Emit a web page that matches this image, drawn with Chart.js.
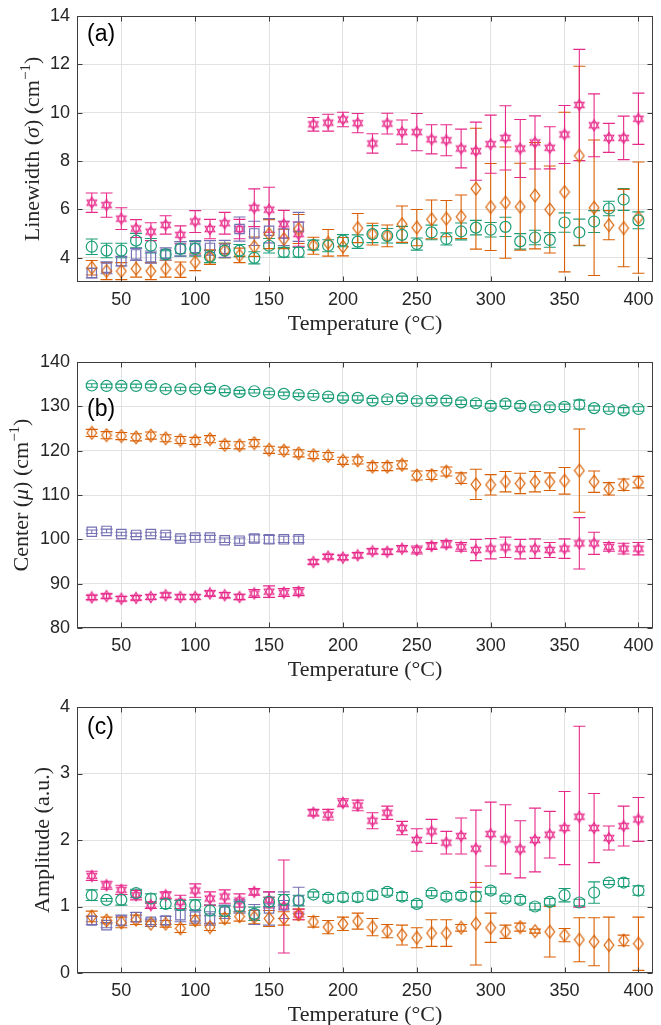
<!DOCTYPE html>
<html>
<head>
  <title>Linewidth, center and amplitude vs temperature</title>
  <meta charset="utf-8" />
  <script src="https://cdn.jsdelivr.net/npm/chart.js@4.4.0/dist/chart.umd.min.js"></script>
  <style>
    html, body {
      margin: 0;
      padding: 0;
      background: #ffffff;
    }
    #wrap {
      position: relative;
      width: 661px;
      height: 1025px;
      overflow: hidden;
    }
    #wrap canvas {
      position: absolute;
      left: 0;
    }
  </style>
</head>
<body>
  <div id="wrap">
    <canvas id="chartA" width="661" height="342" style="top:0px"></canvas>
    <canvas id="chartB" width="661" height="342" style="top:346px"></canvas>
    <canvas id="chartC" width="661" height="342" style="top:691px"></canvas>
  </div>
  <script>
    // temperatures (°C)
    var temps = [30, 40, 50, 60, 70, 80, 90, 100, 110, 120, 130, 140, 150, 160, 170, 180, 190,
                 200, 210, 220, 230, 240, 250, 260, 270, 280, 290, 300, 310, 320, 330, 340, 350,
                 360, 370, 380, 390, 400];
    var tempsLow = [30, 40, 50, 60, 70, 80, 90, 100, 110, 120, 130, 140, 150, 160, 170];

    var xTicks = [50, 100, 150, 200, 250, 300, 350, 400];
    var yTicksA = [4, 6, 8, 10, 12, 14];
    var yTicksB = [80, 90, 100, 110, 120, 130, 140];
    var yTicksC = [0, 1, 2, 3, 4];

    // (a) linewidth
    var aGreen = [4.46, 4.30, 4.30, 4.71, 4.50, 4.14, 4.37, 4.37, 4.05, 4.30, 4.30, 4.00, 4.50, 4.23, 4.23, 4.53, 4.50,
                  4.71, 4.67, 4.98, 4.91, 4.95, 4.57, 5.05, 4.78, 5.09, 5.25, 5.16, 5.28, 4.68, 4.84, 4.74, 5.46, 5.05, 5.50, 6.04, 6.41, 5.55];
    var aGreenErr = [0.32, 0.3, 0.3, 0.3, 0.3, 0.15, 0.3, 0.3, 0.25, 0.3, 0.25, 0.25, 0.3, 0.2, 0.2, 0.2, 0.25,
                     0.25, 0.28, 0.35, 0.3, 0.35, 0.25, 0.3, 0.25, 0.35, 0.3, 0.3, 0.4, 0.32, 0.3, 0.3, 0.4, 0.55, 0.45, 0.3, 0.45, 0.35];
    var aOrange = [3.59, 3.45, 3.45, 3.55, 3.45, 3.55, 3.51, 3.82, 4.03, 4.30, 4.10, 4.46, 4.98, 4.78, 5.19, 4.50, 4.62,
                   4.46, 5.23, 4.98, 4.91, 5.39, 5.25, 5.59, 5.62, 5.70, 6.86, 6.10, 6.28, 6.11, 6.57, 6.00, 6.72, 8.22, 6.07, 5.35, 5.23, 5.66];
    var aOrangeErr = [0.3, 0.35, 0.35, 0.35, 0.35, 0.35, 0.32, 0.35, 0.3, 0.3, 0.3, 0.4, 0.6, 0.4, 0.6, 0.35, 0.55,
                      0.38, 0.6, 0.45, 0.45, 0.75, 0.75, 0.8, 0.75, 0.9, 2.5, 1.8, 2.3, 1.8, 2.2, 1.8, 3.3, 3.7, 2.8, 0.6, 1.6, 2.3];
    var aPurple = [3.37, 3.59, 3.86, 4.14, 4.03, 4.16, 4.37, 4.41, 4.41, 4.37, 5.19, 5.01, 5.12, 5.01, 5.28];
    var aPurpleErr = [0.2, 0.25, 0.2, 0.25, 0.25, 0.25, 0.3, 0.3, 0.3, 0.35, 0.5, 0.5, 0.5, 0.5, 0.6];
    var aPink = [6.28, 6.18, 5.62, 5.21, 5.08, 5.36, 4.95, 5.50, 5.19, 5.43, 5.19, 6.07, 5.99, 5.39, 4.98, 9.52, 9.59,
                 9.72, 9.57, 8.73, 9.55, 9.20, 9.20, 8.90, 8.86, 8.52, 8.41, 8.70, 8.96, 8.52, 8.77, 8.55, 9.10, 10.32, 9.48, 8.96, 8.96, 9.75];
    var aPinkErr = [0.4, 0.5, 0.45, 0.37, 0.37, 0.38, 0.37, 0.45, 0.4, 0.45, 0.4, 0.78, 0.93, 0.57, 0.5, 0.28, 0.35,
                    0.3, 0.4, 0.4, 0.43, 0.5, 0.77, 0.6, 0.64, 0.8, 1.2, 1.2, 1.33, 1.2, 1.1, 0.87, 1.2, 2.3, 1.3, 0.6, 0.9, 1.06];

    // (b) center
    var bGreen = [134.7, 134.6, 134.6, 134.6, 134.6, 133.9, 133.9, 133.9, 134.0, 133.5, 133.2, 133.4, 133.0, 132.8, 132.6, 132.5, 132.2,
                  131.9, 131.9, 131.3, 131.6, 131.8, 131.2, 131.3, 131.3, 130.9, 130.7, 130.1, 130.6, 130.1, 129.8, 129.8, 129.9, 130.4, 129.6, 129.4, 129.1, 129.4];
    var bGreenErr = [0.4, 0.4, 0.4, 0.4, 0.4, 0.4, 0.4, 0.4, 0.4, 0.4, 0.4, 0.4, 0.4, 0.4, 0.4, 0.4, 0.4,
                     0.5, 0.5, 0.5, 0.5, 0.5, 0.5, 0.5, 0.5, 0.5, 0.6, 0.5, 0.6, 0.5, 0.5, 0.5, 0.6, 1.0, 0.5, 0.5, 0.6, 0.5];
    var bOrange = [124.0, 123.5, 123.3, 123.0, 123.4, 122.8, 122.4, 122.2, 122.6, 121.3, 121.2, 121.7, 120.2, 120.0, 119.4, 119.0, 118.8,
                   117.7, 117.8, 116.4, 116.4, 116.8, 114.4, 114.5, 115.3, 113.8, 112.4, 112.3, 113.0, 112.6, 113.0, 113.0, 113.2, 115.5, 113.0, 111.4, 112.3, 112.9];
    var bOrangeErr = [0.8, 0.8, 0.8, 0.8, 0.8, 0.8, 0.8, 0.8, 0.8, 0.8, 0.8, 0.8, 0.8, 0.8, 0.8, 0.8, 0.8,
                      0.8, 0.8, 0.9, 0.9, 0.9, 1.0, 1.0, 1.0, 1.2, 3.4, 2.3, 2.3, 2.3, 2.3, 2.0, 3.0, 9.4, 2.4, 1.4, 1.3, 1.3];
    var bPurple = [101.7, 101.9, 101.2, 101.0, 101.2, 101.0, 100.2, 100.4, 100.4, 99.8, 99.7, 100.2, 100.0, 100.0, 100.0];
    var bPurpleErr = [0.4, 0.4, 0.4, 0.4, 0.4, 0.5, 0.5, 0.5, 0.5, 0.5, 0.6, 0.8, 0.9, 0.7, 0.7];
    var bPink = [86.9, 87.2, 86.6, 86.8, 87.0, 87.4, 87.0, 87.0, 87.8, 87.4, 87.0, 87.8, 88.2, 88.0, 88.2, 94.9, 96.1,
                 95.9, 96.4, 97.3, 97.2, 97.9, 97.6, 98.5, 98.9, 98.3, 97.6, 97.9, 98.2, 97.8, 97.9, 97.6, 97.9, 99.1, 99.1, 98.3, 97.9, 97.9];
    var bPinkErr = [0.5, 0.5, 0.5, 0.5, 0.5, 0.5, 0.5, 0.5, 0.6, 0.6, 0.6, 0.9, 1.3, 0.9, 0.9, 0.5, 0.5,
                    0.5, 0.6, 0.6, 0.6, 0.7, 0.9, 0.8, 0.8, 1.0, 2.4, 2.3, 2.3, 2.2, 2.2, 1.7, 2.2, 5.8, 2.5, 1.0, 1.2, 1.4];

    // (c) amplitude
    var cGreen = [1.17, 1.10, 1.10, 1.20, 1.12, 1.04, 1.02, 1.02, 0.94, 0.93, 1.00, 0.89, 1.07, 1.10, 1.09, 1.18, 1.13,
                  1.14, 1.14, 1.17, 1.22, 1.15, 1.04, 1.20, 1.15, 1.16, 1.15, 1.24, 1.12, 1.10, 1.00, 1.07, 1.17, 1.06, 1.21, 1.36, 1.36, 1.24];
    var cGreenErr = [0.08, 0.02, 0.08, 0.06, 0.07, 0.07, 0.07, 0.08, 0.08, 0.08, 0.08, 0.1, 0.07, 0.08, 0.08, 0.04, 0.05,
                     0.06, 0.06, 0.06, 0.05, 0.06, 0.05, 0.04, 0.05, 0.05, 0.07, 0.05, 0.04, 0.05, 0.05, 0.05, 0.1, 0.05, 0.16, 0.03, 0.06, 0.07];
    var cOrange = [0.85, 0.79, 0.76, 0.80, 0.74, 0.74, 0.67, 0.79, 0.69, 0.82, 0.85, 0.84, 0.82, 0.82, 0.88, 0.77, 0.69,
                   0.74, 0.78, 0.69, 0.63, 0.57, 0.53, 0.60, 0.60, 0.68, 0.74, 0.68, 0.62, 0.69, 0.63, 0.62, 0.57, 0.50, 0.47, 0.42, 0.49, 0.44];
    var cOrangeErr = [0.08, 0.05, 0.08, 0.07, 0.04, 0.05, 0.06, 0.07, 0.05, 0.07, 0.07, 0.1, 0.12, 0.1, 0.08, 0.08, 0.1,
                      0.1, 0.12, 0.13, 0.1, 0.15, 0.15, 0.2, 0.2, 0.05, 0.62, 0.22, 0.1, 0.06, 0.03, 0.38, 0.1, 0.33, 0.36, 0.42, 0.08, 0.4];
    var cPurple = [0.79, 0.72, 0.79, 0.84, 0.77, 0.79, 0.87, 0.85, 0.82, 0.92, 1.00, 0.88, 0.97, 1.02, 1.09];
    var cPurpleErr = [0.06, 0.04, 0.08, 0.07, 0.04, 0.06, 0.1, 0.1, 0.1, 0.1, 0.1, 0.15, 0.25, 0.2, 0.2];
    var cPink = [1.46, 1.32, 1.25, 1.17, 1.02, 1.17, 1.07, 1.24, 1.12, 1.15, 1.09, 1.22, 1.10, 1.00, 0.88, 2.41, 2.38,
                 2.56, 2.52, 2.29, 2.41, 2.18, 2.00, 2.13, 1.96, 2.06, 1.87, 2.09, 2.01, 1.86, 2.00, 2.08, 2.18, 2.35, 2.18, 2.03, 2.21, 2.31];
    var cPinkErr = [0.07, 0.06, 0.07, 0.07, 0.05, 0.05, 0.1, 0.1, 0.1, 0.1, 0.1, 0.05, 0.12, 0.7, 0.08, 0.05, 0.08,
                    0.06, 0.08, 0.12, 0.1, 0.1, 0.17, 0.18, 0.17, 0.27, 0.58, 0.48, 0.52, 0.43, 0.48, 0.35, 0.55, 1.36, 0.52, 0.18, 0.3, 0.33];

    var GREEN = '#1b9e77', ORANGE = '#d95f02', PURPLE = '#7570b3', PINK = '#e7298a';
    var AXIS = '#3d3d3d', GRID = '#e2e2e2', TEXT = '#262626';

    function makeDiamond(color) {
      var c = document.createElement('canvas');
      c.width = 12; c.height = 15;
      var g = c.getContext('2d');
      g.strokeStyle = color; g.lineWidth = 1.2;
      g.beginPath();
      g.moveTo(6, 1.2); g.lineTo(10.8, 7.5); g.lineTo(6, 13.8); g.lineTo(1.2, 7.5);
      g.closePath(); g.stroke();
      return c;
    }

    function makeHexagram(color) {
      var c = document.createElement('canvas');
      c.width = 14; c.height = 14;
      var g = c.getContext('2d');
      g.strokeStyle = color; g.lineWidth = 1.1;
      var r = 5.6;
      for (var k = 0; k < 2; k++) {
        g.beginPath();
        for (var j = 0; j < 3; j++) {
          var a = (k ? Math.PI / 2 : -Math.PI / 2) + j * 2 * Math.PI / 3;
          var px = 7 + r * Math.cos(a), py = 7 + r * Math.sin(a);
          if (j) g.lineTo(px, py); else g.moveTo(px, py);
        }
        g.closePath(); g.stroke();
      }
      return c;
    }

    var diamond = makeDiamond(ORANGE);
    var hexagram = makeHexagram(PINK);

    function pts(xs, ys) {
      return xs.map(function(x, i) { return { x: x, y: ys[i] }; });
    }

    function series(xs, ys, err, color, style, radius) {
      return {
        data: pts(xs, ys),
        err: err,
        showLine: false,
        borderColor: color,
        backgroundColor: 'rgba(0,0,0,0)',
        pointStyle: style,
        pointRadius: radius,
        pointHoverRadius: radius,
        pointBorderWidth: 1.2
      };
    }

    // vertical error bars with caps
    var errorBars = {
      id: 'errorBars',
      beforeDatasetsDraw: function(chart) {
        var ctx = chart.ctx, xs = chart.scales.x, ys = chart.scales.y, area = chart.chartArea;
        ctx.save();
        ctx.beginPath();
        ctx.rect(area.left, area.top, area.right - area.left, area.bottom - area.top);
        ctx.clip();
        chart.data.datasets.forEach(function(ds) {
          ctx.strokeStyle = ds.borderColor;
          ctx.lineWidth = 1.1;
          ds.data.forEach(function(p, j) {
            var x = xs.getPixelForValue(p.x);
            var y1 = ys.getPixelForValue(p.y - ds.err[j]);
            var y2 = ys.getPixelForValue(p.y + ds.err[j]);
            ctx.beginPath();
            ctx.moveTo(x, y1); ctx.lineTo(x, y2);
            ctx.moveTo(x - 6, y1); ctx.lineTo(x + 6, y1);
            ctx.moveTo(x - 6, y2); ctx.lineTo(x + 6, y2);
            ctx.stroke();
          });
        });
        ctx.restore();
      }
    };

    // box, inner ticks, panel letter and y label with italic / superscript parts
    var frame = {
      id: 'frame',
      afterDraw: function(chart, args, opts) {
        var ctx = chart.ctx, a = chart.chartArea;
        var l = Math.round(a.left) + 0.5, r = Math.round(a.right) - 0.5;
        var t = Math.round(a.top) + 0.5, b = Math.round(a.bottom) - 0.5;
        ctx.save();
        ctx.strokeStyle = AXIS;
        ctx.lineWidth = 1;
        ctx.strokeRect(l, t, r - l, b - t);
        ctx.beginPath();
        chart.scales.x.ticks.forEach(function(tk) {
          var x = Math.round(chart.scales.x.getPixelForValue(tk.value)) + 0.5;
          ctx.moveTo(x, b); ctx.lineTo(x, b - 5);
          ctx.moveTo(x, t); ctx.lineTo(x, t + 5);
        });
        chart.scales.y.ticks.forEach(function(tk) {
          var y = Math.round(chart.scales.y.getPixelForValue(tk.value)) + 0.5;
          ctx.moveTo(l, y); ctx.lineTo(l + 5, y);
          ctx.moveTo(r, y); ctx.lineTo(r - 5, y);
        });
        ctx.stroke();

        ctx.fillStyle = '#000000';
        ctx.font = '23px "Liberation Sans", Arial, sans-serif';
        ctx.textBaseline = 'middle';
        ctx.textAlign = 'left';
        ctx.fillText(opts.label, a.left + 10, a.top + opts.labelDy);

        // rotated y title
        var size = 22, pieces = opts.yTitle;
        var fonts = pieces.map(function(p) {
          return (p.it ? 'italic ' : '') + (p.sup ? Math.round(size * 0.7) : size) + 'px "Liberation Serif", serif';
        });
        var widths = pieces.map(function(p, i) { ctx.font = fonts[i]; return ctx.measureText(p.t).width; });
        var total = widths.reduce(function(s, w) { return s + w; }, 0);
        ctx.translate(opts.titleX, (a.top + a.bottom) / 2);
        ctx.rotate(-Math.PI / 2);
        ctx.textBaseline = 'alphabetic';
        ctx.fillStyle = TEXT;
        var x = -total / 2, base = 0.34 * size;
        pieces.forEach(function(p, i) {
          ctx.font = fonts[i];
          ctx.fillText(p.t, x, p.sup ? base - 0.42 * size : base);
          x += widths[i];
        });
        ctx.restore();
      }
    };

    function makePanel(id, cfg) {
      return new Chart(document.getElementById(id), {
        type: 'scatter',
        data: { datasets: cfg.datasets },
        options: {
          responsive: false,
          animation: false,
          events: [],
          layout: { padding: { top: 16, right: 4, left: 0, bottom: 0 } },
          plugins: {
            legend: { display: false },
            tooltip: { enabled: false },
            frame: { label: cfg.label, labelDy: cfg.labelDy, yTitle: cfg.yTitle, titleX: cfg.titleX }
          },
          scales: {
            x: {
              type: 'linear',
              min: 20,
              max: 410,
              afterBuildTicks: function(s) { s.ticks = xTicks.map(function(v) { return { value: v }; }); },
              afterFit: function(s) { s.height = 60; s.paddingLeft = 0; s.paddingRight = 0; },
              grid: { color: GRID, drawTicks: false },
              border: { display: false },
              ticks: {
                padding: 7,
                color: TEXT,
                font: { family: '"Liberation Sans", Arial, sans-serif', size: 18 }
              },
              title: {
                display: true,
                text: 'Temperature (°C)',
                color: TEXT,
                font: { family: '"Liberation Serif", serif', size: 22 },
                padding: { top: 0, bottom: 5 }
              }
            },
            y: {
              type: 'linear',
              min: cfg.ymin,
              max: cfg.ymax,
              afterBuildTicks: function(s) { s.ticks = cfg.yTicks.map(function(v) { return { value: v }; }); },
              afterFit: function(s) { s.width = 77; s.paddingTop = 0; s.paddingBottom = 0; },
              grid: { color: GRID, drawTicks: false },
              border: { display: false },
              ticks: {
                padding: 7,
                color: TEXT,
                font: { family: '"Liberation Sans", Arial, sans-serif', size: 18 }
              }
            }
          }
        },
        plugins: [errorBars, frame]
      });
    }

    makePanel('chartA', {
      ymin: 3, ymax: 14, yTicks: yTicksA, label: '(a)', labelDy: 19, titleX: 32,
      yTitle: [{ t: 'Linewidth (' }, { t: 'σ', it: true }, { t: ') (cm' }, { t: '−1', sup: true }, { t: ')' }],
      datasets: [
        series(temps, aGreen, aGreenErr, GREEN, 'circle', 5.5),
        series(temps, aOrange, aOrangeErr, ORANGE, diamond, 6),
        series(tempsLow, aPurple, aPurpleErr, PURPLE, 'rect', 6.6),
        series(temps, aPink, aPinkErr, PINK, hexagram, 6)
      ]
    });

    makePanel('chartB', {
      ymin: 80, ymax: 140, yTicks: yTicksB, label: '(b)', labelDy: 48, titleX: 21,
      yTitle: [{ t: 'Center (' }, { t: 'μ', it: true }, { t: ') (cm' }, { t: '−1', sup: true }, { t: ')' }],
      datasets: [
        series(temps, bGreen, bGreenErr, GREEN, 'circle', 5.5),
        series(temps, bOrange, bOrangeErr, ORANGE, diamond, 6),
        series(tempsLow, bPurple, bPurpleErr, PURPLE, 'rect', 6.6),
        series(temps, bPink, bPinkErr, PINK, hexagram, 6)
      ]
    });

    makePanel('chartC', {
      ymin: 0, ymax: 4, yTicks: yTicksC, label: '(c)', labelDy: 21, titleX: 42,
      yTitle: [{ t: 'Amplitude (a.u.)' }],
      datasets: [
        series(temps, cGreen, cGreenErr, GREEN, 'circle', 5.5),
        series(temps, cOrange, cOrangeErr, ORANGE, diamond, 6),
        series(tempsLow, cPurple, cPurpleErr, PURPLE, 'rect', 6.6),
        series(temps, cPink, cPinkErr, PINK, hexagram, 6)
      ]
    });
  </script>
</body>
</html>
